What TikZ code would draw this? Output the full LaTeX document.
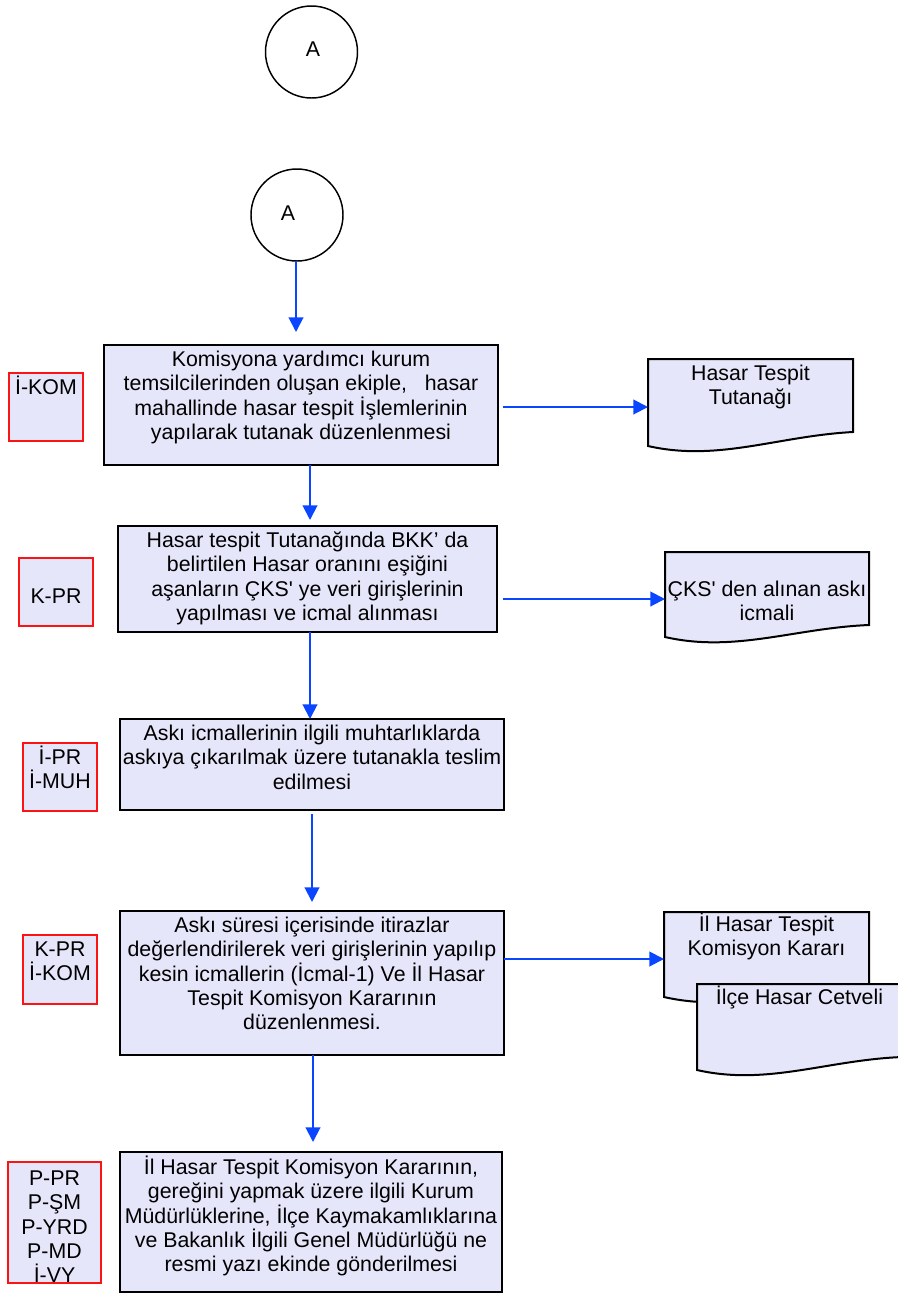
\documentclass[tikz,border=0pt]{standalone}
\usepackage{fontspec}
\setmainfont{Liberation Sans}
\usetikzlibrary{arrows.meta,calc}
\definecolor{lav}{RGB}{230,230,250}
\definecolor{flowblue}{RGB}{10,70,255}
\definecolor{lblred}{RGB}{250,20,20}
\newcommand\mytopstrut{\rule{0pt}{16pt}}
\begin{document}
\begin{tikzpicture}[x=0.75pt,y=-0.75pt,
  every node/.style={inner sep=0pt,outer sep=0pt},
  procbox/.style={draw=black,line width=1.5pt,fill=lav,rectangle},
  rolebox/.style={draw=lblred,line width=1.5pt,fill=lav,rectangle},
  docbox/.style={rectangle},
  docdraw/.style={draw=black,line width=1.5pt,fill=lav},
  conn/.style={draw=black,line width=1.1pt,circle},
  txt/.style={font=\fontsize{16}{18.3}\selectfont,align=center,anchor=north},
  arr/.style={draw=flowblue,line width=1.5pt,-{Triangle[length=11pt,width=11pt,fill=flowblue]}}]
\useasboundingbox (0,0) rectangle (897,1293);

% connectors (circles)
\node[conn,minimum size=69pt] (c1) at (311.5,52) {};
\node[txt,anchor=center] (c1t) at ([xshift=1.1pt,yshift=2.2pt]c1.center) {A};
\node[conn,minimum size=69pt] (c2) at (297,215) {};
\node[txt,anchor=center] (c2t) at ([xshift=-6.75pt,yshift=1.5pt]c2.center) {A};

% process boxes
\node[procbox,minimum width=295.5pt,minimum height=90pt] (b1) at (301,405) {};
\node[txt] (b1t) at (b1.north) {\mytopstrut Komisyona yardımcı kurum\\temsilcilerinden oluşan ekiple,\ \ \ hasar\\mahallinde hasar tespit İşlemlerinin\\yapılarak tutanak düzenlenmesi};

\node[procbox,minimum width=284.25pt,minimum height=79.5pt] (b2) at (307.5,579) {};
\node[txt] (b2t) at (b2.north) {\mytopstrut Hasar tespit Tutanağında BKK’ da\\belirtilen Hasar oranını eşiğini\\aşanların ÇKS\textquotesingle{} ye veri girişlerinin\\yapılması ve icmal alınması};

\node[procbox,minimum width=288pt,minimum height=68.25pt] (b3) at (312,764.5) {};
\node[txt] (b3t) at (b3.north) {\mytopstrut Askı icmallerinin ilgili muhtarlıklarda\\askıya çıkarılmak üzere tutanakla teslim\\edilmesi};

\node[procbox,minimum width=288pt,minimum height=108pt] (b4) at (312,983) {};
\node[txt] (b4t) at (b4.north) {\mytopstrut Askı süresi içerisinde itirazlar\\değerlendirilerek veri girişlerinin yapılıp\\kesin icmallerin (İcmal-1) Ve İl Hasar\\Tespit Komisyon Kararının\\düzenlenmesi.};

\node[procbox,minimum width=286.5pt,minimum height=105pt] (b5) at (311,1222) {};
\node[txt] (b5t) at ([yshift=-0.75pt]b5.north) {\mytopstrut İl Hasar Tespit Komisyon Kararının,\\gereğini yapmak üzere ilgili Kurum\\Müdürlüklerine, İlçe Kaymakamlıklarına\\ve Bakanlık İlgili Genel Müdürlüğü ne\\resmi yazı ekinde gönderilmesi};

% role labels
\node[rolebox,minimum width=55.5pt,minimum height=51pt] (l1) at (46,407) {};
\node[txt] (l1t) at (l1.north) {\mytopstrut İ-KOM};
\node[rolebox,minimum width=55.5pt,minimum height=51pt] (l2) at (56,592) {};
\node[txt] (l2t) at ([yshift=-18pt]l2.north) {\mytopstrut K-PR};
\node[rolebox,minimum width=55.5pt,minimum height=51pt] (l3) at (60,777) {};
\node[txt] (l3t) at (l3.north) {\mytopstrut İ-PR\\İ-MUH};
\node[rolebox,minimum width=55.5pt,minimum height=51.75pt] (l4) at (60,969.5) {};
\node[txt] (l4t) at (l4.north) {\mytopstrut K-PR\\İ-KOM};
\node[rolebox,minimum width=69.75pt,minimum height=90.75pt] (l5) at (54.5,1222.5) {};
\node[txt] (l5t) at ([yshift=-1.5pt]l5.north) {\mytopstrut P-PR\\P-ŞM\\P-YRD\\P-MD\\İ-VY};

% documents
\node[docbox,minimum width=153.75pt,minimum height=65.25pt] (d1) at (750.5,402.5) {};
\draw[docdraw] (d1.north west) -- (d1.north east) -- ($(d1.south east)+(0,-14)$) .. controls ($(d1.south west)+(130,-10)$) and ($(d1.south west)+(70,16)$) .. (d1.south west) -- cycle;
\node[txt] (d1t) at (d1.north) {\mytopstrut Hasar Tespit\\Tutanağı};

\node[docbox,minimum width=153pt,minimum height=63.75pt] (d2) at (767,594.5) {};
\draw[docdraw] (d2.north west) -- (d2.north east) -- ($(d2.south east)+(0,-12)$) .. controls ($(d2.south west)+(130,-9)$) and ($(d2.south west)+(70,16)$) .. (d2.south west) -- cycle;
\node[txt] (d2t) at ([yshift=-17.25pt]d2.north) {\mytopstrut ÇKS\textquotesingle{} den alınan askı\\icmali};

\node[docbox,minimum width=153.75pt,minimum height=63.75pt] (d3) at (766.5,954.5) {};
\draw[docdraw] (d3.north west) -- (d3.north east) -- ($(d3.south east)+(0,-12)$) .. controls ($(d3.south west)+(130,-9)$) and ($(d3.south west)+(70,16)$) .. (d3.south west) -- cycle;
\node[txt] (d3t) at ([yshift=1.5pt]d3.north) {\mytopstrut İl Hasar Tespit\\Komisyon Kararı};

\node[docbox,minimum width=153.75pt,minimum height=64.5pt] (d4) at (799.5,1027) {};
\draw[docdraw] (d4.north west) -- (d4.north east) -- ($(d4.south east)+(0,-13)$) .. controls ($(d4.south west)+(130,-10)$) and ($(d4.south west)+(70,16)$) .. (d4.south west) -- cycle;
\node[txt] (d4t) at ([yshift=0.75pt]d4.north) {\mytopstrut İlçe Hasar Cetveli};

% arrows
\draw[arr,shorten >=9.75pt] ([xshift=-0.75pt]c2.south) -- ([xshift=-0.75pt]c2.south |- b1.north);
\draw[arr,shorten >=4.5pt] ([xshift=6.75pt]b1.south) -- ([xshift=6.75pt]b1.south |- b2.north);
\draw[arr] ([xshift=1.875pt]b2.south) -- ([xshift=1.875pt]b2.south |- b3.north);
\draw[arr,shorten <=3pt,shorten >=6.75pt] (b3.south) -- (b4.north);
\draw[arr,shorten >=7.5pt] ([xshift=0.75pt]b4.south) -- ([xshift=0.75pt]b4.south |- b5.north);
\draw[arr,shorten <=3.75pt] ([yshift=-1.5pt]b1.east) -- ([yshift=-1.5pt]b1.east -| d1.west);
\draw[arr,shorten <=4.5pt] ([yshift=-15pt]b2.east) -- ([yshift=-15pt]b2.east -| d2.west);
\draw[arr] ([yshift=18pt]b4.east) -- ([yshift=18pt]b4.east -| d3.west);
\end{tikzpicture}
\end{document}
